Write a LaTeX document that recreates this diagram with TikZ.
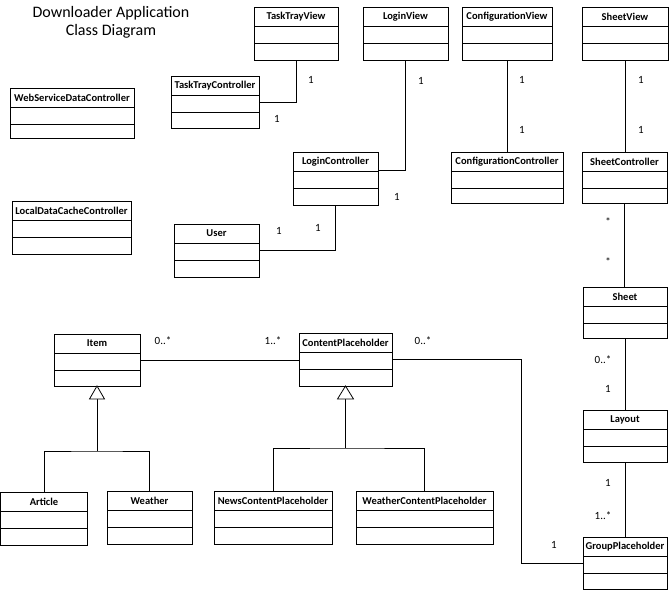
\documentclass[tikz,border=0pt]{standalone}
\usepackage{fontspec}
\setmainfont{Carlito}
\newcommand\umlcls[6]{%
  \node[clsbox, minimum width=#4pt, minimum height=#5pt] (#1) at (#2,#3) {};
  \node[clsname] at ([yshift=-9.5pt]#1.north) {#6};
  \draw ([yshift=-19pt]#1.north west) -- ([yshift=-19pt]#1.north east);
  \draw ([yshift=-36pt]#1.north west) -- ([yshift=-36pt]#1.north east);
}
\begin{document}
\begin{tikzpicture}[x=1pt,y=-1pt, line width=0.8pt,
  clsbox/.style={draw, rectangle, anchor=north west, inner sep=0pt, outer sep=0pt},
  clsname/.style={font=\fontsize{10.5}{12}\selectfont\bfseries, inner sep=0pt},
  mult/.style={font=\fontsize{11}{13}\selectfont, inner sep=0pt},
  gentri/.style={draw, fill=white},
]
\useasboundingbox (0,0) rectangle (669,592);

\node[font=\fontsize{16}{18}\selectfont, align=center, inner sep=0pt] (title) at (111,22) {Downloader Application\\Class Diagram};

% classes
\umlcls{ttv}{254}{7}{84}{53}{TaskTrayView}
\umlcls{lv}{363}{7}{85}{53}{LoginView}
\umlcls{cv}{462}{7}{90}{53}{ConfigurationView}
\umlcls{sv}{582}{7}{86}{53}{SheetView}
\umlcls{ttc}{171}{76}{88}{52}{TaskTrayController}
\umlcls{wsdc}{10}{88}{124}{50}{WebServiceDataController}
\umlcls{lc}{293}{152}{85}{53}{LoginController}
\umlcls{cc}{451}{152}{112}{51}{ConfigurationController}
\umlcls{sc}{582}{152}{85}{51}{SheetController}
\umlcls{ldcc}{12}{201}{119}{53}{LocalDataCacheController}
\umlcls{user}{174}{224}{85}{53}{User}
\umlcls{sheet}{583}{287}{84}{51}{Sheet}
\umlcls{layout}{583}{410}{84}{52}{Layout}
\umlcls{gp}{583}{537}{84}{52}{GroupPlaceholder}
\umlcls{item}{54}{334}{86}{52}{Item}
\umlcls{cp}{299}{333}{93}{53}{ContentPlaceholder}
\umlcls{article}{0.5}{492}{87}{53}{Article}
\umlcls{weather}{107}{491}{85}{53}{Weather}
\umlcls{ncp}{214}{491}{118}{53}{NewsContentPlaceholder}
\umlcls{wcp}{356}{491}{137}{53}{WeatherContentPlaceholder}

% associations
\draw (ttv.south) |- (ttc.east);
\draw (lv.south) |- ([yshift=8pt]lc.east);
\draw (cv.south) -- (cc.north);
\draw (sv.south) -- (sv.south |- sc.north);
\draw (user.east) -| (lc.south);
\draw (sc.south) -- (sc.south |- sheet.north);
\draw (sheet.south) -- (layout.north);
\draw (layout.south) -- (gp.north);
\draw (item.east) -- (item.east -| cp.west);
\coordinate (bend) at (521,0);
\draw (cp.east) -| (bend |- gp.west) -- (gp.west);

% generalizations
\coordinate (ij) at (97,451);
\coordinate (cj) at (345.5,448);
\draw (article.north) |- (ij) -| (weather.north);
\draw ([yshift=-13pt]item.south) -- (item.south |- ij);
\draw[gentri] (item.south) -- ++(-7.5,13) -- ++(15,0) -- cycle;
\draw (ncp.north) |- (cj) -| (wcp.north);
\draw ([yshift=-13pt]cp.south) -- (cp.south |- cj);
\draw[gentri] (cp.south) -- ++(-8,13) -- ++(16,0) -- cycle;

% multiplicities
\node[mult] (m1) at (311,80) {1};
\node[mult] (m2) at (277,119) {1};
\node[mult] (m3) at (421,81) {1};
\node[mult] (m4) at (397,197) {1};
\node[mult] (m5) at (522,80) {1};
\node[mult] (m6) at (522,130) {1};
\node[mult] (m7) at (641,80) {1};
\node[mult] (m8) at (641,130) {1};
\node[mult] (m9) at (279,231) {1};
\node[mult] (m10) at (318,228) {1};
\node[mult] (m11) at (608,222) {*};
\node[mult] (m12) at (608,262) {*};
\node[mult] (m13) at (603,360) {0..*};
\node[mult] (m14) at (608,389) {1};
\node[mult] (m15) at (608,483) {1};
\node[mult] (m16) at (603,516) {1..*};
\node[mult] (m17) at (554,545) {1};
\node[mult] (m18) at (163,341) {0..*};
\node[mult] (m19) at (273,341) {1..*};
\node[mult] (m20) at (423,341) {0..*};
\end{tikzpicture}
\end{document}
